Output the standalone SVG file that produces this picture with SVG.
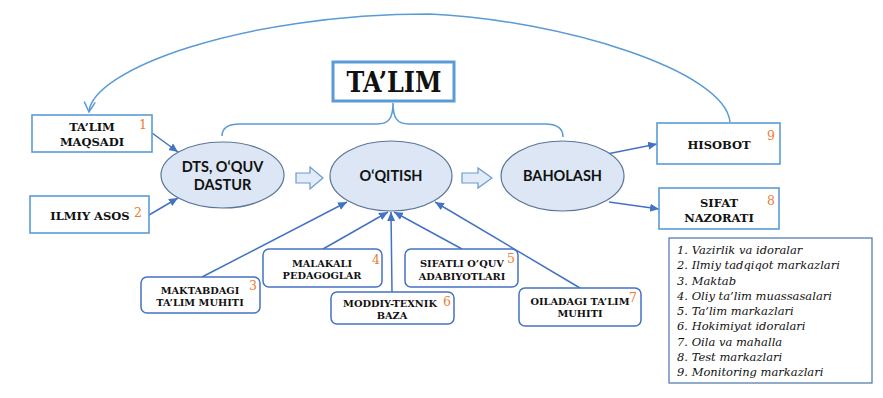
<svg xmlns="http://www.w3.org/2000/svg" width="883" height="398" viewBox="0 0 883 398">
<defs>
<marker id="ah" markerUnits="userSpaceOnUse" markerWidth="10" markerHeight="10" refX="9" refY="5" orient="auto">
<path d="M0,1 L9,5 L0,9 Z" fill="#4472C4"/>
</marker>
<marker id="open" markerUnits="userSpaceOnUse" markerWidth="14" markerHeight="14" refX="12" refY="7" orient="auto">
<path d="M2,1.5 L12,7 L2,12.5" fill="none" stroke="#5B9BD5" stroke-width="1.5"/>
</marker>
</defs>
<style>
.box{fill:#fff;stroke:#5B9BD5;stroke-width:1.6}
.rbox{fill:#fff;stroke:#4472C4;stroke-width:1.5}
.ell{fill:#DCE6F4;stroke:#5A7596;stroke-width:1.2}
.bar{fill:#E1ECF8;stroke:#6A9ACF;stroke-width:1.2}
.con{stroke:#4472C4;stroke-width:1.5;fill:none}
.arc{stroke:#5B9BD5;stroke-width:1.5;fill:none}
.t{font-family:"DejaVu Serif",serif;font-weight:bold;font-size:11.5px;fill:#111;text-anchor:middle}
.ts{font-family:"DejaVu Serif",serif;font-weight:bold;font-size:9.8px;fill:#111;text-anchor:middle}
.e{font-family:Lato,"Liberation Sans",sans-serif;font-weight:bold;font-size:14.5px;fill:#111;text-anchor:middle}
.n{font-family:"DejaVu Serif",serif;font-size:12.5px;fill:#ED7D31;text-anchor:middle}
.lg{font-family:"DejaVu Serif",serif;font-style:italic;font-size:11.5px;fill:#111}
</style>
<rect width="883" height="398" fill="#fff"/>

<g id="title">
<rect x="333" y="62" width="121" height="39" fill="#fff" stroke="#5B9BD5" stroke-width="3"/>
<text x="394" y="92" font-family="DejaVu Serif,serif" font-weight="bold" font-size="27" text-anchor="middle" fill="#111" textLength="95" lengthAdjust="spacingAndGlyphs">TA’LIM</text>
</g>

<g id="connectors">
<path class="arc" d="M222,136 C222,128 228,124 240,124 L377,124 C389,124 393,118 393,103 C393,118 397,124 409,124 L545,124 C557,124 563,128 563,137"/>
<path class="arc" d="M730,122 C725,70 560,20 430,14 C240,14 92,70 89,112" marker-end="url(#open)"/>
<line class="con" x1="152" y1="133" x2="178" y2="152" marker-end="url(#ah)"/>
<line class="con" x1="149" y1="215" x2="178" y2="198" marker-end="url(#ah)"/>
<line class="con" x1="607" y1="154" x2="657" y2="144" marker-end="url(#ah)"/>
<line class="con" x1="609" y1="202" x2="659" y2="209" marker-end="url(#ah)"/>
<line class="con" x1="202" y1="277" x2="347" y2="202" marker-end="url(#ah)"/>
<line class="con" x1="323" y1="249" x2="388" y2="212" marker-end="url(#ah)"/>
<line class="con" x1="392" y1="292" x2="391" y2="212" marker-end="url(#ah)"/>
<line class="con" x1="462" y1="249" x2="394" y2="212" marker-end="url(#ah)"/>
<line class="con" x1="580" y1="288" x2="435" y2="202" marker-end="url(#ah)"/>
<path class="bar" d="M296,173 L310,173 L310,167 L323,178 L310,189 L310,183 L296,183 Z"/>
<path class="bar" d="M462,173 L478,173 L478,168 L492,178 L478,188 L478,183 L462,183 Z"/>
</g>

<g id="n1">
<rect class="box" x="32" y="115" width="120" height="37"/>
<text class="t" x="92" y="130.5">TA’LIM</text>
<text class="t" x="92" y="145.5">MAQSADI</text>
<text class="n" x="143" y="129">1</text>
</g>

<g id="n2">
<rect class="box" x="30" y="196" width="119" height="37"/>
<text class="t" x="90" y="219.5">ILMIY ASOS</text>
<text class="n" x="138" y="217">2</text>
</g>

<g id="dts">
<ellipse class="ell" cx="222.5" cy="175" rx="61.5" ry="33"/>
<text class="e" x="222.5" y="172">DTS, O‘QUV</text>
<text class="e" x="222.5" y="190">DASTUR</text>
</g>

<g id="oqitish">
<ellipse class="ell" cx="391" cy="176" rx="61" ry="35"/>
<text class="e" x="391" y="181">O‘QITISH</text>
</g>

<g id="baholash">
<ellipse class="ell" cx="562.5" cy="176" rx="61.5" ry="35"/>
<text class="e" x="562.5" y="181">BAHOLASH</text>
</g>

<g id="n9">
<rect class="box" x="657" y="123" width="123" height="41"/>
<text class="t" x="719" y="148.5">HISOBOT</text>
<text class="n" x="771" y="140">9</text>
</g>

<g id="n8">
<rect class="box" x="659" y="188" width="120" height="41"/>
<text class="t" x="719" y="206.5">SIFAT</text>
<text class="t" x="719" y="221.5">NAZORATI</text>
<text class="n" x="771" y="205">8</text>
</g>

<g id="n3">
<rect class="rbox" x="141" y="277" width="119" height="36" rx="6"/>
<text class="ts" x="200" y="294">MAKTABDAGI</text>
<text class="ts" x="200" y="306">TA’LIM MUHITI</text>
<text class="n" x="253" y="290">3</text>
</g>

<g id="n4">
<rect class="rbox" x="263" y="249" width="119" height="38" rx="6"/>
<text class="ts" x="322" y="267">MALAKALI</text>
<text class="ts" x="322" y="279">PEDAGOGLAR</text>
<text class="n" x="376" y="264">4</text>
</g>

<g id="n6">
<rect class="rbox" x="331" y="292" width="123" height="32" rx="6"/>
<text class="ts" x="390" y="307">MODDIY-TEXNIK</text>
<text class="ts" x="392" y="319">BAZA</text>
<text class="n" x="447" y="306">6</text>
</g>

<g id="n5">
<rect class="rbox" x="405" y="249" width="113" height="38" rx="6"/>
<text class="ts" x="462" y="267">SIFATLI O’QUV</text>
<text class="ts" x="462" y="280">ADABIYOTLARI</text>
<text class="n" x="511" y="263">5</text>
</g>

<g id="n7">
<rect class="rbox" x="519" y="288" width="122" height="38" rx="6"/>
<text class="ts" x="580" y="305">OILADAGI TA’LIM</text>
<text class="ts" x="580" y="317">MUHITI</text>
<text class="n" x="633" y="302">7</text>
</g>

<g id="legend">
<rect x="669" y="238" width="203" height="145" fill="#fff" stroke="#4A72A8" stroke-width="1.2"/>
<text class="lg" x="677" y="254">1. Vazirlik va idoralar</text>
<text class="lg" x="677" y="269.25">2. Ilmiy tadqiqot markazlari</text>
<text class="lg" x="677" y="284.5">3. Maktab</text>
<text class="lg" x="677" y="299.75">4. Oliy ta’lim muassasalari</text>
<text class="lg" x="677" y="315">5. Ta’lim markazlari</text>
<text class="lg" x="677" y="330.25">6. Hokimiyat idoralari</text>
<text class="lg" x="677" y="345.5">7. Oila va mahalla</text>
<text class="lg" x="677" y="360.75">8. Test markazlari</text>
<text class="lg" x="677" y="376">9. Monitoring markazlari</text>
</g>
</svg>
